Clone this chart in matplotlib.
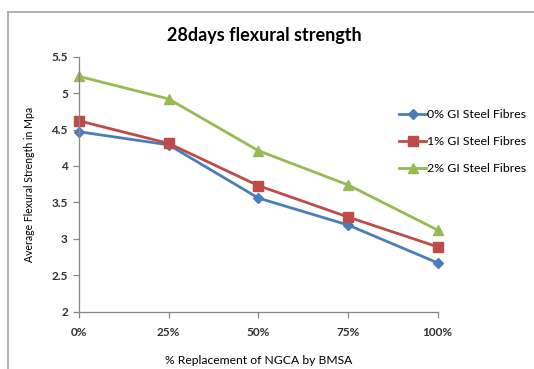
import numpy as np
import matplotlib
matplotlib.use('Agg')
import matplotlib.pyplot as plt
from matplotlib.lines import Line2D

# data
categories = ['0%', '25%', '50%', '75%', '100%']
gi_0 = [4.47, 4.29, 3.56, 3.19, 2.67]
gi_1 = [4.62, 4.31, 3.73, 3.30, 2.89]
gi_2 = [5.23, 4.92, 4.21, 3.74, 3.12]
series_names = ['0% GI Steel Fibres', '1% GI Steel Fibres', '2% GI Steel Fibres']
yticks = [2, 2.5, 3, 3.5, 4, 4.5, 5, 5.5]

plt.rcParams['font.family'] = ['Lato', 'DejaVu Sans']

W, H = 534, 369
fig = plt.figure(figsize=(W/100., H/100.), dpi=100)
ax = fig.add_axes([79/W, 1-311.7/H, (437.7-79)/W, (311.7-56.7)/H])

# chart border (cropped on right / bottom)
grey = '#a6a6a6'
fig.add_artist(Line2D([7.5/W, 7.5/W], [0, 1-12/H], color=grey, lw=1.2, transform=fig.transFigure))
fig.add_artist(Line2D([7.5/W, 1], [1-12/H, 1-12/H], color=grey, lw=1.2, transform=fig.transFigure))

x = np.arange(len(categories))
ax.plot(x, gi_0, color='#4a7ebb', lw=2.0, marker='D', ms=5, label=series_names[0])
ax.plot(x, gi_1, color='#be4b48', lw=2.0, marker='s', ms=6.5, label=series_names[1])
ax.plot(x, gi_2, color='#98b954', lw=2.0, marker='^', ms=7, label=series_names[2])

ax.set_xlim(0, 4)
ax.set_ylim(2, 5.5)
ax.set_xticks(x)
ax.set_xticklabels(categories)
ax.set_yticks(yticks)
ax.set_yticklabels(['2', '2.5', '3', '3.5', '4', '4.5', '5', '5.5'])

for side in ['top', 'right']:
    ax.spines[side].set_visible(False)
for side in ['left', 'bottom']:
    ax.spines[side].set_color('#868686')
    ax.spines[side].set_linewidth(0.9)
ax.tick_params(axis='both', which='major', direction='out', length=4, width=0.9,
               color='#868686', labelsize=8.5, pad=4)
ax.tick_params(axis='x', pad=7)
for lbl in ax.get_xticklabels() + ax.get_yticklabels():
    lbl.set_fontweight('bold')
    lbl.set_color('#303030')
ax.patch.set_visible(False)
for l in ax.lines:
    l.set_clip_on(False)

ax.set_xlabel('% Replacement of NGCA by BMSA', fontsize=8.7, labelpad=12)
ax.set_ylabel('Average Flexural Strength in Mpa', fontsize=7.6, labelpad=12)

fig.text(264/W, 1-36/H, '28days flexural strength', fontsize=13, fontweight='bold',
         ha='center', va='center')

leg = ax.legend(loc='upper left', bbox_to_anchor=(399/W, 1-109/H), bbox_transform=fig.transFigure,
                frameon=False, fontsize=8.9, handlelength=2.2, handletextpad=0.1,
                labelspacing=1.3, borderaxespad=0, borderpad=0)

fig.savefig('out.png', dpi=100)
